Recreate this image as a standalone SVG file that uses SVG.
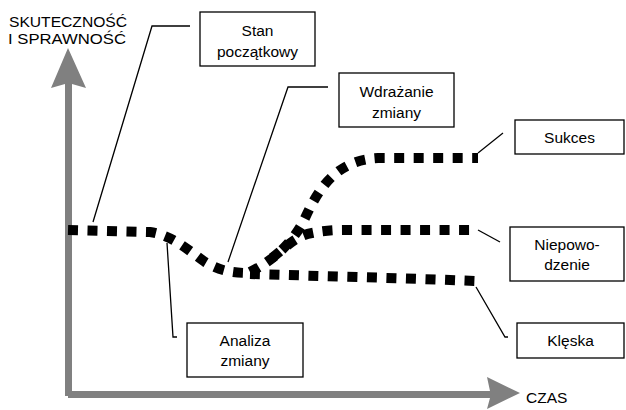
<svg xmlns="http://www.w3.org/2000/svg" width="626" height="410" viewBox="0 0 626 410">
<style>
.box{fill:#fff;stroke:#000;stroke-width:1.3}
.lead{fill:none;stroke:#000;stroke-width:1.3}
.dot{fill:none;stroke:#000;stroke-width:10;stroke-dasharray:10 9.5}
.axis{fill:#808080}
text{font-family:"Liberation Sans",Arial,sans-serif;font-size:15.5px;fill:#000}
.c{text-anchor:middle}
</style>
<rect width="626" height="410" fill="#fff"/>
<g id="axes">
<polygon class="axis" points="68,48 86,88 72,84 72,396 65,396 65,84 51,88"/>
<polygon class="axis" points="520,393 487,377 490,391 68,391 68,398 490,398 487,409"/>
<text x="68" y="27" class="c" textLength="118" lengthAdjust="spacingAndGlyphs">SKUTECZNOŚĆ</text>
<text x="67" y="44" class="c" textLength="118" lengthAdjust="spacingAndGlyphs">I SPRAWNOŚĆ</text>
<text x="526" y="403">CZAS</text>
</g>
<g id="curves">
<path class="dot" d="M68,230 L150,232 C172,235 188,250 205,262 C220,271 232,273 250,273"/>
<path class="dot" d="M250,274 C320,276 400,278 475,281"/>
<path class="dot" d="M250,272 C278,258 296,238 306,216 C320,186 338,160 378,158 L478,158"/>
<path class="dot" d="M272,258 C285,248 295,236 312,233 C322,231 332,230 345,230 L478,230"/>
</g>
<g id="connectors">
<polyline class="lead" points="93,222 152,26 190,26"/>
<polyline class="lead" points="228,262 288,87 328,87"/>
<polyline class="lead" points="478,153 503,133"/>
<polyline class="lead" points="478,230 500,242"/>
<polyline class="lead" points="476,287 505,337 508,337"/>
<polyline class="lead" points="167,243 173,337 177,337"/>
</g>
<g id="stan">
<rect class="box" x="200" y="12" width="115" height="54"/>
<text x="257.5" y="36" class="c">Stan</text>
<text x="257.5" y="57" class="c">początkowy</text>
</g>
<g id="wdrazanie">
<rect class="box" x="339" y="73" width="115" height="54"/>
<text x="396.5" y="97" class="c">Wdrażanie</text>
<text x="396.5" y="118" class="c">zmiany</text>
</g>
<g id="sukces">
<rect class="box" x="515" y="120" width="109" height="34"/>
<text x="569.5" y="143" class="c">Sukces</text>
</g>
<g id="niepowodzenie">
<rect class="box" x="510" y="227" width="114" height="54"/>
<text x="567" y="250" class="c">Niepowo-</text>
<text x="567" y="270" class="c">dzenie</text>
</g>
<g id="kleska">
<rect class="box" x="517" y="323" width="107" height="35"/>
<text x="570.5" y="346" class="c">Klęska</text>
</g>
<g id="analiza">
<rect class="box" x="187" y="323" width="116" height="54"/>
<text x="245" y="346" class="c">Analiza</text>
<text x="245" y="366" class="c">zmiany</text>
</g>
</svg>
